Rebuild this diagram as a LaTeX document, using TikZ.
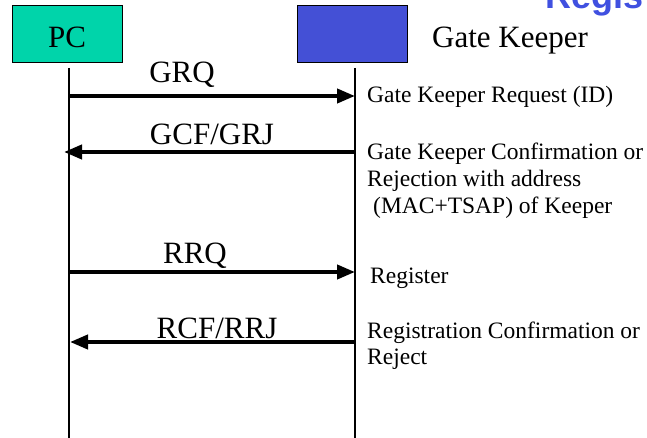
\documentclass[tikz,border=0pt]{standalone}
\usepackage{fontspec}
\setmainfont{Liberation Serif}
\newfontfamily\titlefont{Liberation Sans}
\usetikzlibrary{arrows.meta}
\definecolor{pcfill}{RGB}{0,212,170}
\definecolor{gkfill}{RGB}{68,80,214}
\definecolor{titleblue}{RGB}{64,80,224}
\begin{document}
\begin{tikzpicture}[x=1pt,y=-1pt,
  entity/.style={draw=black,line width=1.3pt,minimum width=110pt,minimum height=57pt,inner sep=0pt,anchor=north west},
  bigtxt/.style={font=\fontsize{31}{36}\selectfont,inner sep=0pt,anchor=base},
  sidetxt/.style={font=\fontsize{23.5}{27}\selectfont,inner sep=0pt,anchor=base west},
  lifeline/.style={line width=1.3pt},
  msg/.style={line width=4pt,-{Triangle[length=18pt,width=14pt]}}]
\useasboundingbox (0,0) rectangle (647,438);
\clip (0,0) rectangle (647,438);
% title fragment
\node[inner sep=0pt,anchor=base west,font=\titlefont\bfseries\fontsize{36}{40}\selectfont,text=titleblue] (title) at (545,9) {Regis};
% entities
\node[entity,fill=pcfill] (pc) at (12,5) {};
\node[bigtxt] (pclbl) at (67,48) {PC};
\node[entity,fill=gkfill] (gk) at (297,5) {};
\node[bigtxt,anchor=base west] (gklbl) at (432,48) {Gate Keeper};
% lifelines
\coordinate (pctop) at (69,68);
\coordinate (pcbot) at (69,438);
\coordinate (gktop) at (355,68);
\coordinate (gkbot) at (355,438);
\draw[lifeline] (pctop) -- (pcbot);
\draw[lifeline] (gktop) -- (gkbot);
% message end points
\coordinate (m1a) at (69,96);  \coordinate (m1b) at (355,96);
\coordinate (m2a) at (355,152); \coordinate (m2b) at (64,152);
\coordinate (m3a) at (69,272); \coordinate (m3b) at (355,272);
\coordinate (m4a) at (355,342); \coordinate (m4b) at (70,342);
\draw[msg] (m1a) -- (m1b);
\draw[msg] (m2a) -- (m2b);
\draw[msg] (m3a) -- (m3b);
\draw[msg] (m4a) -- (m4b);
% message labels
\node[bigtxt] (grq) at (182,83) {GRQ};
\node[bigtxt] (gcf) at (212,145) {GCF/GRJ};
\node[bigtxt] (rrq) at (195,263) {RRQ};
\node[bigtxt] (rcf) at (217,338) {RCF/RRJ};
% side descriptions
\node[sidetxt] (d1) at (367,103) {Gate Keeper Request (ID)};
\node[sidetxt] (d2a) at (367,160) {Gate Keeper Confirmation or};
\node[sidetxt] (d2b) at (367,187) {Rejection with address};
\node[sidetxt] (d2c) at (373,214) {(MAC+TSAP) of Keeper};
\node[sidetxt] (d3) at (370,283) {Register};
\node[sidetxt] (d4a) at (367,338) {Registration Confirmation or};
\node[sidetxt] (d4b) at (367,364) {Reject};
\end{tikzpicture}
\end{document}
